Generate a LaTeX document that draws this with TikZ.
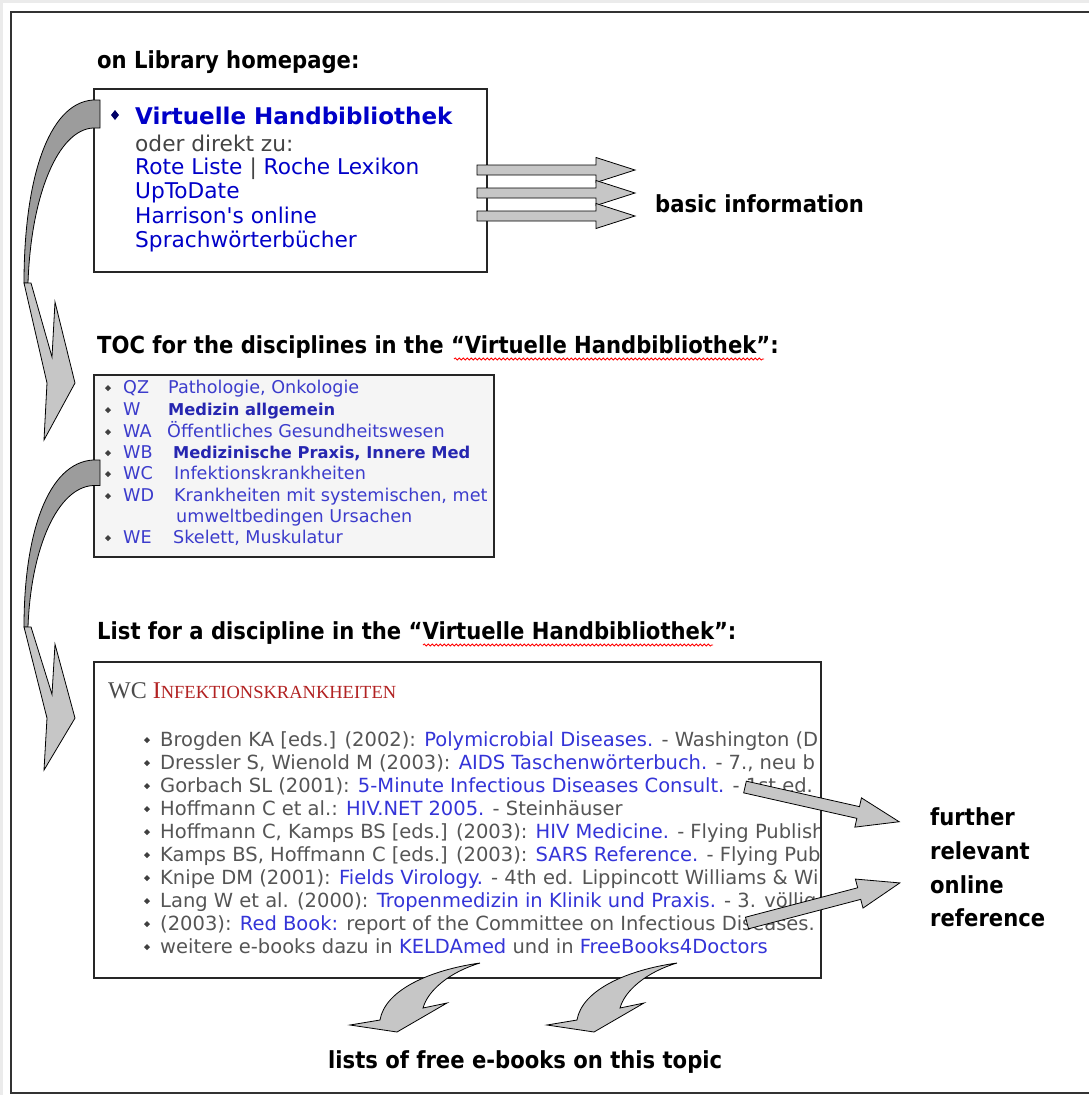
\documentclass[tikz,border=0pt]{standalone}
\usepackage{fontspec}
\usetikzlibrary{decorations.pathmorphing}
\newfontfamily\vfont{DejaVu Sans}
\newfontfamily\cfont[BoldFont={DejaVu Sans Condensed Bold}]{DejaVu Sans Condensed}
\newfontfamily\sfont{Liberation Serif}
\definecolor{hb}{HTML}{0000C8}
\definecolor{tg}{HTML}{444444}
\definecolor{btwo}{HTML}{3C3CCC}
\definecolor{btwob}{HTML}{2626B0}
\definecolor{bthg}{HTML}{555555}
\definecolor{bthl}{HTML}{3434D8}
\definecolor{tred}{HTML}{B22222}
\definecolor{afill}{HTML}{C6C6C6}
\definecolor{adark}{HTML}{9C9C9C}
\newcommand\lnk[1]{\textcolor{bthl}{#1}}
\begin{document}
\begin{tikzpicture}[x=1pt,y=-1pt,
  hd/.style={font={\cfont\bfseries\fontsize{23.5}{24}\selectfont}, anchor=base west, inner sep=0pt},
  bone/.style={font={\vfont\fontsize{21.7}{22}\selectfont}, anchor=base west, inner sep=0pt, text=hb},
  btw/.style={font={\vfont\fontsize{17.6}{18}\selectfont}, anchor=base west, inner sep=0pt, text=btwo},
  btwbold/.style={btw, text=btwob, font={\vfont\bfseries\fontsize{16.3}{18}\selectfont}},
  bth/.style={font={\vfont\fontsize{19.5}{20}\selectfont}, anchor=base west, inner sep=0pt, text=bthg},
  boxline/.style={draw=black!85, line width=1.5pt},
  arr/.style={fill=afill, draw=black, line width=0.8pt, line join=miter},
  arrd/.style={fill=adark, draw=black, line width=0.8pt},
  squig/.style={draw=red, line width=0.8pt, decorate, decoration={snake, amplitude=1.1pt, segment length=4pt}},
  barrow/.pic={\path[arr] (0,-5) -- (119,-5) -- (119,-12.5) -- (158,0) -- (119,12.5) -- (119,5) -- (0,5) -- cycle;},
  farrow/.pic={\path[arr] (0,-6) -- (116,-6) -- (116,-15) -- (158,0) -- (116,15) -- (116,6) -- (0,6) -- cycle;}
]
\useasboundingbox (0,0) rectangle (1089,1095);
\fill[black!8] (0,0) rectangle (1089,1095);
\fill[white] (3,3) rectangle (1089,1095);
\draw[black!80, line width=2pt] (11,12) rectangle (1100,1093);

% headings
\node[hd] (h1) at (97,68) {on Library homepage:};
\node[hd] (h2) at (97,353) {TOC for the disciplines in the “Virtuelle Handbibliothek”:};
\node[hd] (h3) at (97,639) {List for a discipline in the “Virtuelle Handbibliothek”:};
\draw[squig] (454,359) -- (764,359);
\draw[squig] (423,645) -- (713,645);

% box 1
\node[boxline, fill=white, minimum width=393pt, minimum height=183pt, anchor=north west, inner sep=0pt] (box1) at (93,88) {};
\fill[blue!40!black] (115,110) -- (119,115) -- (115,120) -- (111,115) -- cycle;
\node[bone, font={\vfont\bfseries\fontsize{23}{23}\selectfont}] (vh) at (135,124) {Virtuelle Handbibliothek};
\node[bone, text=tg] (odz) at (135,151) {oder direkt zu:};
\node[bone] (rl) at (135,174) {Rote Liste \textcolor{tg}{|} Roche Lexikon};
\node[bone] (utd) at (135,198) {UpToDate};
\node[bone] (har) at (135,223) {Harrison's online};
\node[bone] (spr) at (135,247) {Sprachwörterbücher};

% basic information arrows
\pic at (477,170) {barrow};
\pic at (477,193) {barrow};
\pic at (477,216) {barrow};
\node[hd] (basic) at (655,212) {basic information};

% box 2
\node[boxline, fill=black!4, minimum width=400pt, minimum height=182pt, anchor=north west, inner sep=0pt] (box2) at (93,374) {};
\begin{scope}
\clip (94,375) rectangle (492,555);
\foreach \yy in {393,415,437,458,479,501,543} {\fill[black!75] (108,\yy-8) -- (111,\yy-5) -- (108,\yy-2) -- (105,\yy-5) -- cycle;}
\node[btw] (c1) at (123,393) {QZ};
\node[btw] (t1) at (168,393) {Pathologie, Onkologie};
\node[btw] (c2) at (123,415) {W};
\node[btwbold] (t2) at (168,415) {Medizin allgemein};
\node[btw] (c3) at (123,437) {WA};
\node[btw] (t3) at (167,437) {Öffentliches Gesundheitswesen};
\node[btw] (c4) at (123,458) {WB};
\node[btwbold] (t4) at (173,458) {Medizinische Praxis, Innere Med};
\node[btw] (c5) at (123,479) {WC};
\node[btw] (t5) at (174,479) {Infektionskrankheiten};
\node[btw] (c6) at (123,501) {WD};
\node[btw] (t6) at (174,501) {Krankheiten mit systemischen, met};
\node[btw] (t6b) at (176,522) {umweltbedingen Ursachen};
\node[btw] (c7) at (123,543) {WE};
\node[btw] (t7) at (173,543) {Skelett, Muskulatur};
\end{scope}

% box 3
\node[boxline, fill=white, minimum width=727pt, minimum height=316pt, anchor=north west, inner sep=0pt] (box3) at (93,661) {};
\begin{scope}
\clip (94,662) rectangle (819,976);
\node[anchor=base west, inner sep=0pt, text=black!70] (ttl) at (108,698) {\sfont\fontsize{24}{24}\selectfont WC \textcolor{tred}{I\fontsize{18.5}{18.5}\selectfont NFEKTIONSKRANKHEITEN}};
\foreach \yy in {746,769,792,815,838,861,884,907,930,953} {\fill[black!75] (147,\yy-9) -- (150,\yy-6) -- (147,\yy-3) -- (144,\yy-6) -- cycle;}
\node[bth] (l1) at (160,746) {Brogden KA [eds.] (2002): \lnk{Polymicrobial Diseases.} - Washington (D};
\node[bth] (l2) at (160,769) {Dressler S, Wienold M (2003): \lnk{AIDS Taschenwörterbuch.} - 7., neu b};
\node[bth] (l3) at (160,792) {Gorbach SL (2001): \lnk{5-Minute Infectious Diseases Consult.} - 1st ed.};
\node[bth] (l4) at (160,815) {Hoffmann C et al.: \lnk{HIV.NET 2005.} - Steinhäuser};
\node[bth] (l5) at (160,838) {Hoffmann C, Kamps BS [eds.] (2003): \lnk{HIV Medicine.} - Flying Publishe};
\node[bth] (l6) at (160,861) {Kamps BS, Hoffmann C [eds.] (2003): \lnk{SARS Reference.} - Flying Pub};
\node[bth] (l7) at (160,884) {Knipe DM (2001): \lnk{Fields Virology.} - 4th ed. Lippincott Williams \& Will};
\node[bth] (l8) at (160,907) {Lang W et al. (2000): \lnk{Tropenmedizin in Klinik und Praxis.} - 3. völlig};
\node[bth] (l9) at (160,930) {(2003): \lnk{Red Book:} report of the Committee on Infectious Diseases.};
\node[bth] (l10) at (160,953) {weitere e-books dazu in \lnk{KELDAmed} und in \lnk{FreeBooks4Doctors}};
\end{scope}

% curved arrows on the left
\foreach \sy/\sc in {100/1, 460/0.912} {
\begin{scope}[shift={(0,\sy)}, yscale=\sc]
\path[arrd] (100,0) -- (100,28) -- (93,28) .. controls (58,30) and (31,95) .. (28,183) -- (24,183) .. controls (24,80) and (48,3) .. (93,0) -- cycle;
\path[arr] (24,183) -- (47,283) -- (44,340) -- (75,283) -- (55,202) -- (52,257) -- (31,183) -- cycle;
\end{scope}
}

% further relevant online reference
\pic[rotate=-12.7] at (745,787) {farrow};
\pic[rotate=14.7] at (747,923) {farrow};
\node[hd] (fr1) at (930,825) {further};
\node[hd] (fr2) at (930,859) {relevant};
\node[hd] (fr3) at (930,893) {online};
\node[hd] (fr4) at (930,926) {reference};

% bottom curved arrows
\foreach \sx in {0,197} {
\begin{scope}[shift={(\sx,0)}]
\path[arr] (480,963) .. controls (430,970) and (385,990) .. (380,1020) -- (350,1025) -- (397,1032) -- (447,1003) -- (423,1008) .. controls (428,990) and (450,972) .. (480,963) -- cycle;
\end{scope}
}
\node[hd] (lists) at (328,1068) {lists of free e-books on this topic};
\end{tikzpicture}
\end{document}
